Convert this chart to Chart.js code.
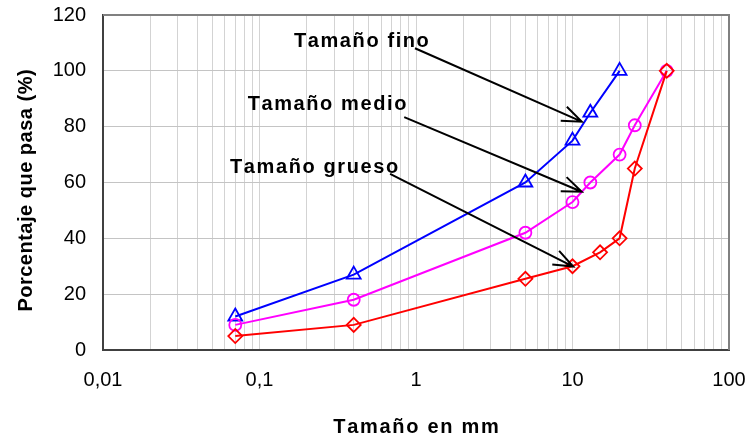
<!DOCTYPE html>
<html><head><meta charset="utf-8">
<script src="https://cdn.jsdelivr.net/npm/chart.js@4"></script>
<style>html,body{margin:0;padding:0;background:#fff;}#wrap{width:748px;height:438px;}</style>
</head><body><div id="wrap"><canvas id="c" width="748" height="438"></canvas></div>
<script>
// ---- data ----
const decades = [0.01, 0.1, 1, 10, 100];
const decadeLabels = ['0,01', '0,1', '1', '10', '100'];
const yMin = 0, yMax = 120, yStep = 20;

const sizesFino = [0.07, 0.4, 5, 10, 13, 20];
const pasaFino = [12, 27, 60, 75, 85, 100];

const sizesMedio = [0.07, 0.4, 5, 10, 13, 20, 25, 40];
const pasaMedio = [9, 18, 42, 53, 60, 70, 80.5, 100];

const sizesGrueso = [0.07, 0.4, 5, 10, 15, 20, 25, 40];
const pasaGrueso = [5, 9, 25.5, 30, 35, 40, 65, 100];

const xTitle = 'Tamaño en mm';
const yTitle = 'Porcentaje que pasa (%)';

// annotations (data coordinates)
const annTexts = ['Tamaño fino', 'Tamaño medio', 'Tamaño grueso'];
const annTextAt = [[0.166, 108.5], [0.084, 86.0], [0.0648, 63.3]];
const annArrowFrom = [[0.985, 108.1], [0.841, 83.4], [0.683, 63.1]];
const annArrowTo = [[11.45, 81.8], [11.45, 56.7], [10.1, 29.9]];

// ---- helpers ----
const FONT = '"Liberation Sans", Arial, sans-serif';
const toXY = (xs, ys) => xs.map((x, i) => ({x: x, y: ys[i]}));
const minorTicks = [];
decades.forEach((d, i) => {
  if (i === decades.length - 1) { minorTicks.push({value: d}); return; }
  for (let k = 1; k <= 9; k++) minorTicks.push({value: +(d * k).toPrecision(6)});
});

function spacedText(ctx, text, x, y, spacing, align) {
  const chars = Array.from(text);
  const widths = chars.map(c => ctx.measureText(c).width);
  const total = widths.reduce((a, b) => a + b, 0) + spacing * (chars.length - 1);
  let cx = align === 'center' ? x - total / 2 : x;
  ctx.textAlign = 'left';
  chars.forEach((c, i) => { ctx.fillText(c, cx, y); cx += widths[i] + spacing; });
}

function arrow(ctx, x1, y1, x2, y2) {
  const a = Math.atan2(y2 - y1, x2 - x1), L = 21, h = 0.37;
  ctx.beginPath();
  ctx.moveTo(x1, y1); ctx.lineTo(x2, y2);
  ctx.moveTo(x2 - L * Math.cos(a - h), y2 - L * Math.sin(a - h));
  ctx.lineTo(x2, y2);
  ctx.lineTo(x2 - L * Math.cos(a + h), y2 - L * Math.sin(a + h));
  ctx.stroke();
}

const framePlugin = {
  id: 'frame',
  beforeDatasetsDraw(chart) {
    const {ctx, chartArea: ca} = chart;
    ctx.save();
    ctx.strokeStyle = '#808080'; ctx.lineWidth = 2;
    ctx.beginPath();
    ctx.moveTo(ca.left, ca.top); ctx.lineTo(ca.right, ca.top); ctx.lineTo(ca.right, ca.bottom);
    ctx.stroke();
    ctx.restore();
  },
  afterDatasetsDraw(chart) {
    const {ctx, scales} = chart;
    const px = v => scales.x.getPixelForValue(v), py = v => scales.y.getPixelForValue(v);
    ctx.save();
    ctx.fillStyle = '#000'; ctx.strokeStyle = '#000'; ctx.lineWidth = 2;
    ctx.font = 'bold 20px ' + FONT; ctx.textBaseline = 'alphabetic';
    annTexts.forEach((t, i) => {
      spacedText(ctx, t, px(annTextAt[i][0]), py(annTextAt[i][1]), 1.6, 'left');
      arrow(ctx, px(annArrowFrom[i][0]), py(annArrowFrom[i][1]), px(annArrowTo[i][0]), py(annArrowTo[i][1]));
    });
    ctx.restore();
  },
  afterDraw(chart) {
    const {ctx, chartArea: ca} = chart;
    ctx.save();
    ctx.fillStyle = '#000';
    ctx.font = 'bold 20px ' + FONT; ctx.textBaseline = 'alphabetic';
    spacedText(ctx, xTitle, (ca.left + ca.right) / 2, 433, 1.7, 'center');
    ctx.translate(32, (ca.top + ca.bottom) / 2 + 8);
    ctx.rotate(-Math.PI / 2);
    spacedText(ctx, yTitle, 0, 0, 0.5, 'center');
    ctx.restore();
  }
};

const common = {showLine: true, tension: 0, borderWidth: 2, pointBorderWidth: 1.8,
  pointBackgroundColor: 'rgba(0,0,0,0)', pointHoverRadius: 6};

new Chart(document.getElementById('c'), {
  type: 'scatter',
  data: {
    datasets: [
      Object.assign({label: annTexts[2], data: toXY(sizesGrueso, pasaGrueso), borderColor: '#ff0000',
        pointBorderColor: '#ff0000', pointStyle: 'rectRot', pointRadius: 7}, common),
      Object.assign({label: annTexts[1], data: toXY(sizesMedio, pasaMedio), borderColor: '#ff00ff',
        pointBorderColor: '#ff00ff', pointStyle: 'circle', pointRadius: 6}, common),
      Object.assign({label: annTexts[0], data: toXY(sizesFino, pasaFino), borderColor: '#0000ff',
        pointBorderColor: '#0000ff', pointStyle: 'triangle', pointRadius: 8}, common)
    ]
  },
  options: {
    responsive: false, animation: false, devicePixelRatio: 1,
    layout: {padding: {left: 0, top: 15, right: 19, bottom: 0}},
    plugins: {legend: {display: false}, tooltip: {enabled: false}},
    scales: {
      x: {
        type: 'logarithmic', min: decades[0], max: decades[decades.length - 1],
        afterBuildTicks(scale) { scale.ticks = minorTicks.map(t => ({value: t.value})); },
        afterFit(scale) { scale.height = 88; scale.paddingLeft = 0; scale.paddingRight = 0; },
        ticks: {
          autoSkip: false, maxRotation: 0, minRotation: 0, padding: 18, color: '#000',
          font: {family: FONT, size: 20},
          callback(v) {
            const i = decades.findIndex(d => Math.abs(Math.log10(d) - Math.log10(v)) < 1e-6);
            return i >= 0 ? decadeLabels[i] : '';
          }
        },
        grid: {color: '#d3d3d3', lineWidth: 1, drawTicks: false},
        border: {display: true, color: '#404040', width: 2}
      },
      y: {
        type: 'linear', min: yMin, max: yMax,
        afterFit(scale) { scale.width = 103; scale.paddingTop = 0; scale.paddingBottom = 0; },
        ticks: {stepSize: yStep, padding: 17, color: '#000', font: {family: FONT, size: 20}},
        grid: {color: '#c4c4c4', lineWidth: 1, drawTicks: false},
        border: {display: true, color: '#404040', width: 2}
      }
    }
  },
  plugins: [framePlugin]
});
</script></body></html>
